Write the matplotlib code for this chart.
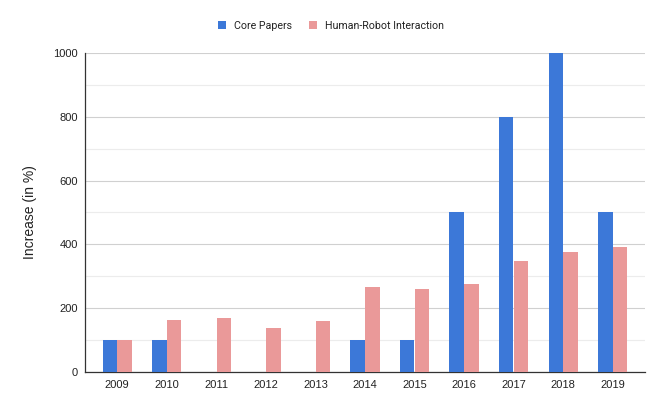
import numpy as np
import matplotlib
matplotlib.use('Agg')
import matplotlib.pyplot as plt
from matplotlib.ticker import MultipleLocator

plt.rcParams['font.family'] = ['Liberation Sans', 'DejaVu Sans']

years = ['2009', '2010', '2011', '2012', '2013', '2014', '2015', '2016', '2017', '2018', '2019']
core_papers = [100, 100, 0, 0, 0, 100, 100, 500, 800, 1000, 500]
hri = [100, 163, 169, 138, 160, 268, 260, 277, 349, 375, 393]

fig = plt.figure(figsize=(6.64, 4.11), dpi=100)
ax = fig.add_axes([85 / 664, 1 - 372 / 411, 560 / 664, 319 / 411])

x = np.arange(len(years))
w = 0.29
ax.bar(x - w / 2 - 0.005, core_papers, w, color='#3c78d8', label='Core Papers', zorder=3)
ax.bar(x + w / 2 + 0.005, hri, w, color='#ea9999', label='Human-Robot Interaction', zorder=3)

ax.set_xlim(-0.65, 10.65)
ax.set_ylim(0, 1000)
ax.set_xticks(x)
ax.set_xticklabels(years)
ax.yaxis.set_major_locator(MultipleLocator(200))
ax.yaxis.set_minor_locator(MultipleLocator(100))
ax.grid(axis='y', which='major', color='#d0d0d0', linewidth=0.8, zorder=0)
ax.grid(axis='y', which='minor', color='#ececec', linewidth=0.8, zorder=0)
ax.tick_params(axis='both', which='both', length=0, labelsize=8, colors='#222222', pad=6)
ax.tick_params(axis='y', pad=5)

for s in ['top', 'right']:
    ax.spines[s].set_visible(False)
for s in ['left', 'bottom']:
    ax.spines[s].set_color('#333333')
    ax.spines[s].set_linewidth(0.9)

ax.set_ylabel('Increase (in %)', fontsize=10, color='#222222')
ax.yaxis.set_label_coords((37 - 85) / 560, 0.5)

leg = fig.legend(loc='center', bbox_to_anchor=(331 / 664, 1 - 26 / 411), ncol=2, frameon=False,
                 prop={'family': 'Roboto', 'size': 7.7}, handlelength=0.75, handleheight=0.75,
                 handletextpad=0.8, columnspacing=1.5)
for t in leg.get_texts():
    t.set_color('#222222')

fig.savefig('out.png', dpi=100)
